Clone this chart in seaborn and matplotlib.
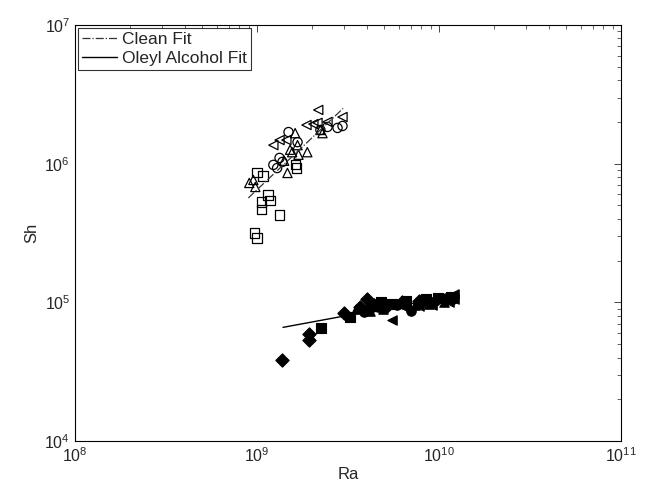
import matplotlib
matplotlib.use("Agg")
import matplotlib.pyplot as plt
import seaborn as sns

# Open markers: clean water runs
clean_sq_ra = [1.00e9, 1.08e9, 1.15e9, 1.18e9, 1.06e9, 1.06e9, 1.33e9, 9.67e8, 1.00e9, 1.62e9, 1.65e9]
clean_sq_sh = [8.6e5, 8.15e5, 5.95e5, 5.4e5, 5.3e5, 4.7e5, 4.27e5, 3.16e5, 2.91e5, 9.8e5, 9.3e5]

clean_tri_ra = [9.07e8, 9.55e8, 9.79e8, 1.47e9, 1.56e9, 1.69e9, 1.89e9, 1.67e9, 1.62e9, 2.29e9, 1.52e9, 2.23e9, 1.41e9]
clean_tri_sh = [7.26e5, 7.63e5, 6.79e5, 8.57e5, 1.21e6, 1.16e6, 1.21e6, 1.36e6, 1.66e6, 1.66e6, 1.26e6, 1.75e6, 1.05e6]

clean_circ_ra = [1.49e9, 1.67e9, 1.23e9, 1.33e9, 1.38e9, 1.29e9, 2.77e9, 2.95e9, 2.44e9, 2.23e9]
clean_circ_sh = [1.69e6, 1.43e6, 9.8e5, 1.10e6, 1.03e6, 9.3e5, 1.81e6, 1.87e6, 1.84e6, 1.75e6]

clean_left_ra = [2.17e9, 1.23e9, 1.45e9, 2.04e9, 2.44e9, 2.95e9, 2.15e9, 1.33e9, 1.87e9]
clean_left_sh = [2.44e6, 1.36e6, 1.48e6, 1.93e6, 2.00e6, 2.17e6, 1.97e6, 1.48e6, 1.90e6]

# Filled markers: oleyl alcohol runs
oleyl_dia_ra = [1.38e9, 1.92e9, 1.92e9, 3.02e9, 3.66e9, 4.04e9, 4.41e9, 5.16e9, 6.27e9, 7.72e9]
oleyl_dia_sh = [3.85e4, 5.9e4, 5.35e4, 8.4e4, 9.2e4, 1.05e5, 9.6e4, 9.4e4, 1.0e5, 1.03e5]

oleyl_sq_ra = [2.26e9, 3.26e9, 4.04e9, 4.79e9, 5.53e9, 6.62e9, 8.44e9, 9.87e9, 1.16e10]
oleyl_sq_sh = [6.5e4, 7.8e4, 8.8e4, 1.0e5, 9.8e4, 1.02e5, 1.05e5, 1.08e5, 1.1e5]

oleyl_circ_ra = [3.85e9, 6.98e9, 4.63e9, 5.90e9, 8.07e9, 9.51e9, 1.09e10, 1.20e10]
oleyl_circ_sh = [8.5e4, 8.6e4, 9.3e4, 9.6e4, 1.0e5, 1.02e5, 1.07e5, 1.05e5]

oleyl_tri_ra = [3.51e9, 4.19e9, 4.93e9, 7.36e9, 8.81e9, 1.06e10]
oleyl_tri_sh = [9.0e4, 8.7e4, 9.0e4, 9.5e4, 9.8e4, 1.0e5]

oleyl_left_ra = [5.53e9, 5.38e9, 6.41e9, 7.72e9, 9.16e9, 1.13e10, 1.21e10, 1.21e10]
oleyl_left_sh = [7.4e4, 9.8e4, 9.2e4, 9.4e4, 9.6e4, 1.0e5, 1.05e5, 1.15e5]

# Fit lines (end points)
clean_fit_ra = [8.96e8, 2.97e9]
clean_fit_sh = [5.66e5, 2.5e6]
oleyl_fit_ra = [1.39e9, 1.23e10]
oleyl_fit_sh = [6.6e4, 1.12e5]

sns.set_style("white")
plt.rcParams["font.family"] = ["Liberation Sans", "DejaVu Sans"]
plt.rcParams["mathtext.fontset"] = "custom"
plt.rcParams["mathtext.rm"] = "Liberation Sans"
plt.rcParams["mathtext.it"] = "Liberation Sans:italic"

fig = plt.figure(figsize=(6.48, 4.88), dpi=100)
ax = fig.add_axes([75 / 648, 1 - 441 / 488, 546 / 648, 416 / 488])
ax.set_xscale("log")
ax.set_yscale("log")

open_kw = dict(ax=ax, facecolor="none", edgecolor="k", linewidth=0.9, s=44)
sns.scatterplot(x=clean_sq_ra, y=clean_sq_sh, marker="s", **open_kw)
sns.scatterplot(x=clean_tri_ra, y=clean_tri_sh, marker="^", **open_kw)
sns.scatterplot(x=clean_circ_ra, y=clean_circ_sh, marker="o", **open_kw)
sns.scatterplot(x=clean_left_ra, y=clean_left_sh, marker="<", **open_kw)

fill_kw = dict(ax=ax, color="k", edgecolor="k", linewidth=0.8, s=46)
sns.scatterplot(x=oleyl_dia_ra, y=oleyl_dia_sh, marker="D", **fill_kw)
sns.scatterplot(x=oleyl_sq_ra, y=oleyl_sq_sh, marker="s", **fill_kw)
sns.scatterplot(x=oleyl_circ_ra, y=oleyl_circ_sh, marker="o", **fill_kw)
sns.scatterplot(x=oleyl_tri_ra, y=oleyl_tri_sh, marker="^", **fill_kw)
sns.scatterplot(x=oleyl_left_ra, y=oleyl_left_sh, marker="<", **fill_kw)

sns.lineplot(x=clean_fit_ra, y=clean_fit_sh, ax=ax, color="0.2", linestyle="-.", linewidth=0.9, label="Clean Fit")
sns.lineplot(x=oleyl_fit_ra, y=oleyl_fit_sh, ax=ax, color="k", linestyle="-", linewidth=1.0, label="Oleyl Alcohol Fit")

ax.set_xlim(1e8, 1e11)
ax.set_ylim(1e4, 1e7)
ax.set_xlabel("Ra", fontsize=12, labelpad=2)
ax.set_ylabel("Sh", fontsize=12)
ax.tick_params(which="both", direction="in", top=True, right=True, labelsize=11.5)
ax.tick_params(which="major", length=5, width=0.6)
ax.tick_params(which="minor", length=3, width=0.5)
for sp in ax.spines.values():
    sp.set_linewidth(0.8)
    sp.set_color("k")

leg = ax.legend(loc="upper left", borderaxespad=0.15, fontsize=12.5, frameon=True,
                fancybox=False, handlelength=2.0, borderpad=0.25, labelspacing=0.2,
                handletextpad=0.3)
leg.get_frame().set_edgecolor("k")
leg.get_frame().set_linewidth(0.8)

fig.savefig("out.png", dpi=100)
